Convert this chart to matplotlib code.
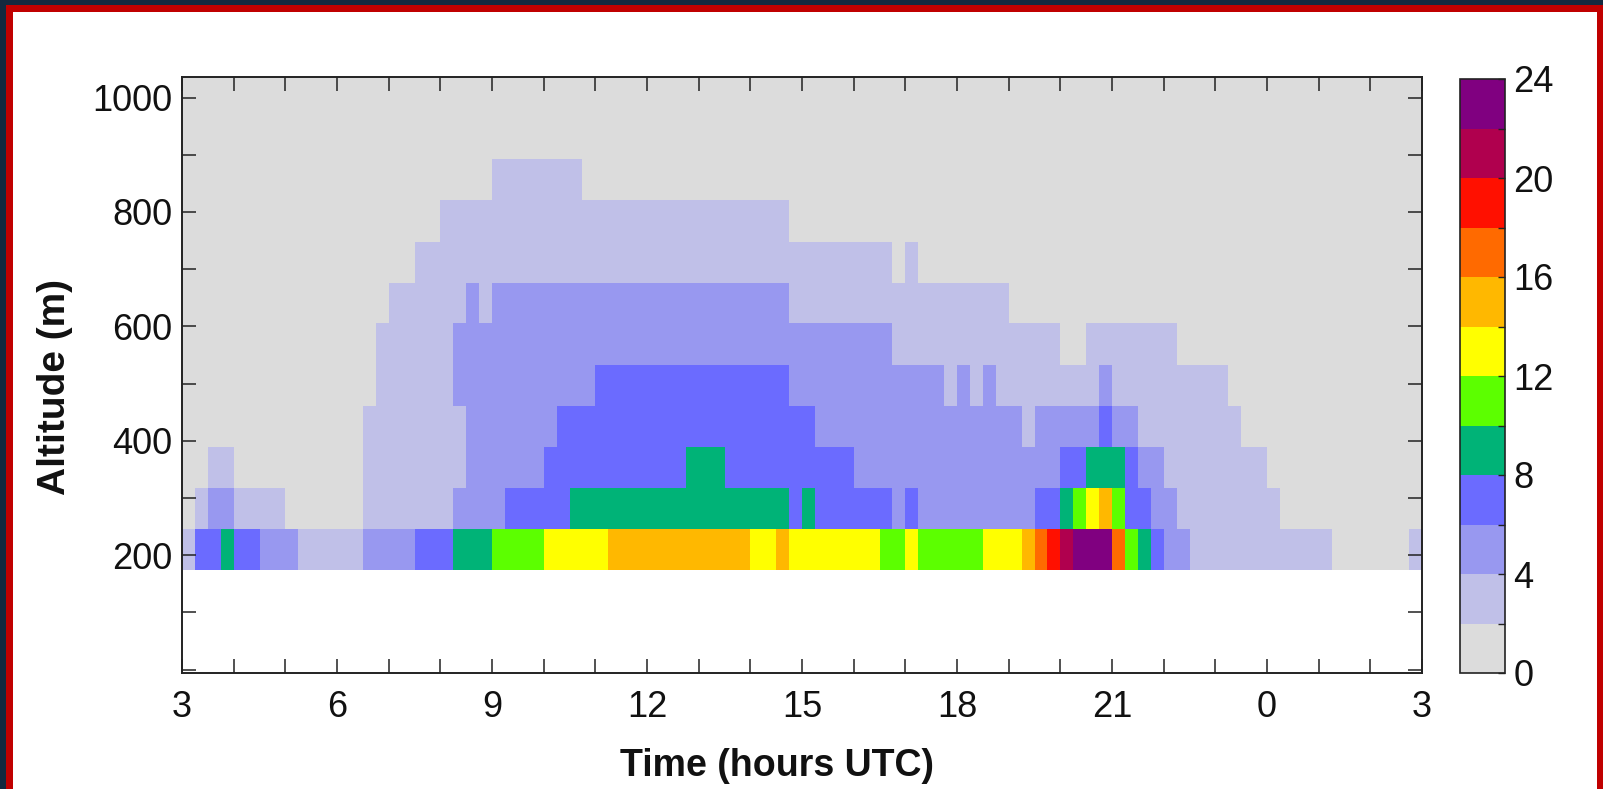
import numpy as np
import matplotlib.pyplot as plt
from matplotlib.colors import ListedColormap, BoundaryNorm
from matplotlib.patches import Rectangle
from matplotlib.ticker import MultipleLocator, FuncFormatter

plt.rcParams['font.family'] = ['Liberation Sans', 'DejaVu Sans']

# altitude gates (m), centre of each row
alt_centres = [210, 282, 354, 425, 497, 569, 641, 712, 784, 856, 928, 1000]
gate = 71.8

# runs per gate: (end hour, colour class), starting at 3 UTC (hours past 24 = next day)
# class k covers values 2k .. 2k+2
alt_210 = [(3.25, 1), (3.75, 3), (4.0, 4), (4.5, 3), (5.25, 2), (6.5, 1), (7.5, 2), (8.25, 3),
           (9.0, 4), (10.0, 5), (11.25, 6), (14.0, 7), (14.5, 6), (14.75, 7), (16.5, 6),
           (17.0, 5), (17.25, 6), (18.5, 5), (19.25, 6), (19.5, 7), (19.75, 8), (20.0, 9),
           (20.25, 10), (21.0, 11), (21.25, 8), (21.5, 5), (21.75, 4), (22.0, 3), (22.5, 2),
           (25.25, 1), (26.75, 0), (27.0, 1)]
alt_282 = [(3.25, 0), (3.5, 1), (4.0, 2), (5.0, 1), (6.5, 0), (8.25, 1), (9.25, 2), (10.5, 3),
           (14.75, 4), (15.0, 3), (15.25, 4), (16.75, 3), (17.0, 2), (17.25, 3), (19.5, 2),
           (20.0, 3), (20.25, 4), (20.5, 5), (20.75, 6), (21.0, 7), (21.25, 5), (21.75, 3),
           (22.25, 2), (24.25, 1), (27.0, 0)]
alt_354 = [(3.5, 0), (4.0, 1), (6.5, 0), (8.5, 1), (10.0, 2), (12.75, 3), (13.5, 4), (16.0, 3),
           (20.0, 2), (20.5, 3), (21.25, 4), (21.5, 3), (22.0, 2), (24.0, 1), (27.0, 0)]
alt_425 = [(6.5, 0), (8.5, 1), (10.25, 2), (15.25, 3), (19.25, 2), (19.5, 1), (20.75, 2),
           (21.0, 3), (21.5, 2), (23.5, 1), (27.0, 0)]
alt_497 = [(6.75, 0), (8.25, 1), (11.0, 2), (14.75, 3), (17.75, 2), (18.0, 1), (18.25, 2),
           (18.5, 1), (18.75, 2), (20.75, 1), (21.0, 2), (23.25, 1), (27.0, 0)]
alt_569 = [(6.75, 0), (8.25, 1), (16.75, 2), (20.0, 1), (20.5, 0), (22.25, 1), (27.0, 0)]
alt_641 = [(7.0, 0), (8.5, 1), (8.75, 2), (9.0, 1), (14.75, 2), (19.0, 1), (27.0, 0)]
alt_712 = [(7.5, 0), (16.75, 1), (17.0, 0), (17.25, 1), (27.0, 0)]
alt_784 = [(8.0, 0), (14.75, 1), (27.0, 0)]
alt_856 = [(9.0, 0), (10.75, 1), (27.0, 0)]
alt_928 = [(27.0, 0)]
alt_1000 = [(27.0, 0)]

levels = [0, 2, 4, 6, 8, 10, 12, 14, 16, 18, 20, 22, 24]
colours = ['#dcdcdc', '#c0c0e8', '#9898f0', '#6b6bff', '#00b377', '#5cff00',
           '#ffff00', '#ffb800', '#ff6a00', '#ff1000', '#b0004e', '#800080']

rows = [alt_210, alt_282, alt_354, alt_425, alt_497, alt_569,
        alt_641, alt_712, alt_784, alt_856, alt_928, alt_1000]

t_edges = np.arange(3, 27.001, 0.25)
t_mid = 0.5 * (t_edges[:-1] + t_edges[1:])
grid = np.zeros((len(rows), len(t_mid)))
for i, runs in enumerate(rows):
    start = 3.0
    for end, k in runs:
        grid[i, (t_mid > start) & (t_mid < end)] = 2 * k + 1
        start = end
alt_edges = np.append(np.array(alt_centres) - gate / 2, alt_centres[-1] + gate / 2)

W, H = 1603, 789
fig = plt.figure(figsize=(W / 100, H / 100), dpi=100, facecolor='#13293f')
# red frame + white panel behind everything
fig.patches.append(Rectangle((6 / W, -0.05), 1.1, (H - 5) / H + 0.05,
                             transform=fig.transFigure, facecolor='#c00000', edgecolor='none', zorder=-20))
fig.patches.append(Rectangle((12.5 / W, -0.05), (1597 - 12.5) / W, (H - 12) / H + 0.05,
                             transform=fig.transFigure, facecolor='white', edgecolor='none', zorder=-10))

ax = fig.add_axes([182 / W, 1 - 673 / H, (1422 - 182) / W, (673 - 77) / H])
ax.set_facecolor('white')
cmap = ListedColormap(colours)
norm = BoundaryNorm(levels, cmap.N)
mesh = ax.pcolormesh(t_edges, alt_edges, grid, cmap=cmap, norm=norm, shading='flat')

ax.set_xlim(3, 27)
ax.set_ylim(-6, 1036)
ax.xaxis.set_major_locator(MultipleLocator(3))
ax.xaxis.set_minor_locator(MultipleLocator(1))
ax.xaxis.set_major_formatter(FuncFormatter(lambda v, p: f"{int(round(v)) % 24}"))
ax.yaxis.set_major_locator(MultipleLocator(200))
ax.yaxis.set_minor_locator(MultipleLocator(100))
ax.yaxis.set_major_formatter(FuncFormatter(lambda v, p: f"{int(v)}" if v > 0 else ""))
ax.tick_params(which='both', direction='in', top=True, right=True, length=10, width=1.1,
               color='#222222', labelsize=26, labelcolor='#111111')
ax.tick_params(axis='x', pad=12)
ax.tick_params(axis='y', pad=7)
for s in ax.spines.values():
    s.set_linewidth(1.4)
    s.set_color('#222222')

ax.set_xlabel('Time (hours UTC)', fontsize=27, fontweight='bold', color='#111111')
ax.set_ylabel('Altitude (m)', fontsize=28, fontweight='bold', color='#111111')
ax.xaxis.set_label_coords(0.48, -0.125)
ax.yaxis.set_label_coords(-0.088, 0.48)

cax = fig.add_axes([1460 / W, 1 - 673 / H, (1505 - 1460) / W, (673 - 79) / H])
cb = fig.colorbar(mesh, cax=cax, ticks=levels)
cb.ax.yaxis.set_major_formatter(FuncFormatter(lambda v, p: f"{int(round(v))}" if round(v) % 4 == 0 else ""))
cb.ax.tick_params(direction='in', length=5, width=1.0, color='#222222', labelsize=26,
                  labelcolor='#111111', pad=6)
cb.outline.set_linewidth(1.2)
cb.outline.set_edgecolor('#222222')

fig.savefig('out.png', dpi=100, facecolor=fig.get_facecolor())
